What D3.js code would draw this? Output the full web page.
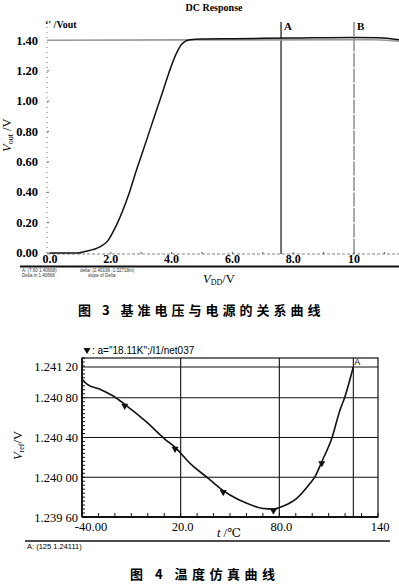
<!DOCTYPE html>
<html>
<head>
<meta charset="utf-8">
<script src="https://cdn.jsdelivr.net/npm/d3@7"></script>
<style>
  body { margin: 0; background: #fff; }
  svg { display: block; }
  .serif { font-family: "Liberation Serif", "DejaVu Serif", serif; }
  .cjk { font-family: "Noto Sans CJK SC", sans-serif; font-weight: bold; }
</style>
</head>
<body>
<svg id="chart"></svg>
<script>
// --- data: figure 3 (DC response) ---
const vddVolts   = [0, 0.9, 1.15, 1.64, 1.88, 2.19, 2.58, 2.85, 3.07, 3.62, 4.17, 4.33, 4.6, 5.0, 6.0, 8.0, 10.0, 10.8, 11.5];
const voutVolts  = [0, 0, 0.01, 0.04, 0.075, 0.185, 0.38, 0.55, 0.68, 1.01, 1.32, 1.375, 1.405, 1.41, 1.412, 1.416, 1.42, 1.418, 1.405];
const refVolts   = [-0.1, 10.5, 11.5];
const refValues  = [1.402, 1.405, 1.395];
const dcTicks    = [0, 2, 4, 6, 8, 10];
const dcTickText = ["0.0", "2.0", "4.0", "6.0", "8.0", "10"];
const voutTicks  = [0, 0.2, 0.4, 0.6, 0.8, 1.0, 1.2, 1.4];
const dcCursors  = [7.6, 10];
const dcCursorNames = ["A", "B"];

// --- data: figure 4 (temperature sweep) ---
const tempC = [-40, -37, -29, -21, -14, -1, 10.5, 16.6, 25.7, 36.8, 45.9, 50, 60.2, 70.3, 76.4, 82.5, 90.6, 98.7, 101.7, 105.8, 111.9, 116.9, 119.9, 125];
const vrefV = [1.240986, 1.240938, 1.240885, 1.240818, 1.240734, 1.240559, 1.240382, 1.240301, 1.24014, 1.239989, 1.239865, 1.239821,
               1.239738, 1.239685, 1.23968, 1.239711, 1.239788, 1.239939, 1.240006, 1.240156, 1.240392, 1.240677, 1.240811, 1.241112];
const markerTemps = [-14, 16.6, 45.9, 76.4, 105.8];
const markerVals  = [1.240734, 1.240301, 1.239865, 1.23968, 1.240156];
const tempTicks     = [-40, 20, 80, 140];
const tempTickText  = ["-40.00", "20.0", "80.0", "140"];
const vrefTicks     = [1.2396, 1.2400, 1.2404, 1.2408, 1.24111];
const vrefTickText  = ["1.239 60", "1.240 00", "1.240 40", "1.240 80", "1.241 20"];
const tempCursor = 125;

const W = 399, H = 587;
const svg = d3.select("#chart").attr("width", W).attr("height", H);
svg.append("rect").attr("width", W).attr("height", H).attr("fill", "#fff");

// ================= Figure 3 =================
const x3 = d3.scaleLinear().domain([0, 10]).range([50, 354]);
const y3 = d3.scaleLinear().domain([0, 1.4]).range([253, 40.5]);
const top3 = 22;

svg.append("text").attr("class", "serif")
  .attr("x", 214).attr("y", 11).attr("text-anchor", "middle")
  .attr("font-size", 10).attr("font-weight", "bold").text("DC Response");

svg.append("text").attr("class", "serif")
  .attr("x", 45).attr("y", 28).attr("font-size", 10).attr("font-weight", "bold")
  .text("\u2018' /Vout");

// dotted y axis with small ticks
svg.append("line").attr("x1", 47).attr("x2", 47).attr("y1", top3).attr("y2", 254)
  .attr("stroke", "#777").attr("stroke-dasharray", "1,4");
svg.append("line").attr("x1", 47).attr("x2", W).attr("y1", 254).attr("y2", 254)
  .attr("stroke", "#666").attr("stroke-width", 0.8).attr("stroke-dasharray", "3,2");

const yAxis3 = svg.append("g").attr("class", "serif");
yAxis3.selectAll("text").data(voutTicks).enter().append("text")
  .attr("x", 38).attr("y", d => y3(d) + 4)
  .attr("text-anchor", "end").attr("font-size", 12.5).attr("font-weight", "bold")
  .text(d => d3.format(".2f")(d));
yAxis3.selectAll("line").data(voutTicks).enter().append("line")
  .attr("x1", 47).attr("x2", 49).attr("y1", d => y3(d)).attr("y2", d => y3(d))
  .attr("stroke", "#666");

const xAxis3 = svg.append("g").attr("class", "serif");
xAxis3.selectAll("text").data(dcTicks).enter().append("text")
  .attr("x", d => x3(d)).attr("y", 263)
  .attr("text-anchor", "middle").attr("font-size", 12).attr("font-weight", "bold")
  .text((d, i) => dcTickText[i]);
xAxis3.selectAll("line").data(d3.range(0, 11.5, 1)).enter().append("line")
  .attr("x1", d => x3(d)).attr("x2", d => x3(d)).attr("y1", 252).attr("y2", 254)
  .attr("stroke", "#555");

// cursors A / B
dcCursors.forEach((v, i) => {
  svg.append("line").attr("x1", x3(v)).attr("x2", x3(v)).attr("y1", top3).attr("y2", 254)
    .attr("stroke", i === 0 ? "#111" : "#555").attr("stroke-width", i === 0 ? 1.2 : 1)
    .attr("stroke-dasharray", i === 0 ? null : "14,1.5");
  svg.append("text").attr("class", "serif")
    .attr("x", x3(v) + 3).attr("y", 30).attr("font-size", 11).attr("font-weight", "bold")
    .text(dcCursorNames[i]);
});

const line3 = d3.line().x(d => x3(d[0])).y(d => y3(d[1])).curve(d3.curveMonotoneX);
svg.append("path").datum(refVolts.map((v, i) => [v, refValues[i]]))
  .attr("d", line3).attr("fill", "none").attr("stroke", "#999").attr("stroke-width", 1.6);
svg.append("path").datum(vddVolts.map((v, i) => [v, voutVolts[i]]))
  .attr("d", line3).attr("fill", "none").attr("stroke", "#111").attr("stroke-width", 1.5);

// footer rule and status text
svg.append("line").attr("x1", 20).attr("x2", W).attr("y1", 266.5).attr("y2", 266.5)
  .attr("stroke", "#111").attr("stroke-width", 2);
const status3 = [["A: (7.60 1.40668)", 22, 271.5], ["Delta in 1.40668", 22, 277],
                 ["delta: (2.40196 -1.32718m)", 80, 271.5], ["slope of Delta", 88, 277]];
svg.append("g").selectAll("text").data(status3).enter().append("text")
  .attr("x", d => d[1]).attr("y", d => d[2]).attr("font-family", "Liberation Sans")
  .attr("font-size", 4.5).attr("fill", "#333").text(d => d[0]);

// axis titles
const xt3 = svg.append("text").attr("class", "serif").attr("x", 203).attr("y", 283).attr("font-size", 12.5);
xt3.append("tspan").attr("font-style", "italic").text("V");
xt3.append("tspan").attr("font-size", 8).attr("dy", 2).text("DD");
xt3.append("tspan").attr("dy", -2).text("/V");

const yt3 = svg.append("text").attr("class", "serif").attr("font-size", 12.5)
  .attr("transform", "translate(11,152) rotate(-90)");
yt3.append("tspan").attr("font-style", "italic").text("V");
yt3.append("tspan").attr("font-size", 8).attr("dy", 2).text("out");
yt3.append("tspan").attr("dy", -2).text(" /V");

svg.append("text").attr("class", "cjk").attr("x", 78).attr("y", 315)
  .attr("font-size", 13).attr("letter-spacing", 4)
  .text("图 3  基准电压与电源的关系曲线");

// ================= Figure 4 =================
const x4 = d3.scaleLinear().domain([-40, 140]).range([82, 378]);
const y4 = d3.scaleLinear().domain([1.2396, 1.2412]).range([517, 358]);

const caption4 = svg.append("g");
caption4.append("path")
  .attr("d", d3.symbol().type(d3.symbolTriangle).size(22))
  .attr("transform", "translate(87,350) rotate(180)").attr("fill", "#111");
caption4.append("text").attr("x", 92).attr("y", 354)
  .attr("font-family", "Liberation Sans").attr("font-size", 10)
  .text(":  a=\"18.11K\";/I1/net037");

// grid
const grid4 = svg.append("g").attr("stroke", "#111").attr("stroke-width", 1.1);
grid4.selectAll(".h").data(vrefTicks.slice(1)).enter().append("line")
  .attr("x1", x4(-40)).attr("x2", x4(140)).attr("y1", d => y4(d)).attr("y2", d => y4(d));
grid4.selectAll(".v").data(tempTicks.slice(1, 3).concat([tempCursor])).enter().append("line")
  .attr("x1", d => x4(d)).attr("x2", d => x4(d)).attr("y1", y4.range()[1]).attr("y2", y4.range()[0]);
svg.append("rect").attr("x", x4(-40)).attr("y", y4(1.2412))
  .attr("width", x4(140) - x4(-40)).attr("height", y4(1.2396) - y4(1.2412))
  .attr("fill", "none").attr("stroke", "#111").attr("stroke-width", 1.2);
svg.append("line").attr("x1", x4(-40)).attr("x2", x4(140)).attr("y1", y4(1.2396)).attr("y2", y4(1.2396))
  .attr("stroke", "#111").attr("stroke-width", 1.8);
svg.append("line").attr("x1", x4(-40)).attr("x2", x4(-40)).attr("y1", y4(1.2412)).attr("y2", y4(1.2396))
  .attr("stroke", "#111").attr("stroke-width", 1.8);

// minor ticks
svg.append("g").selectAll("line").data(d3.range(-40, 141, 10)).enter().append("line")
  .attr("x1", d => x4(d)).attr("x2", d => x4(d)).attr("y1", 517).attr("y2", 513)
  .attr("stroke", "#111");
svg.append("g").selectAll("line").data(d3.range(1.2396, 1.24121, 0.00004)).enter().append("line")
  .attr("x1", 82).attr("x2", 85).attr("y1", d => y4(d)).attr("y2", d => y4(d))
  .attr("stroke", "#111");

svg.append("text").attr("x", x4(tempCursor) + 1).attr("y", 365)
  .attr("font-family", "Liberation Sans").attr("font-size", 9).text("A");

// tick labels
svg.append("g").attr("class", "serif").selectAll("text").data(vrefTicks).enter().append("text")
  .attr("x", 78).attr("y", d => y4(d) + 4.5).attr("text-anchor", "end")
  .attr("font-size", 12.5).text((d, i) => vrefTickText[i]);
svg.append("g").attr("class", "serif").selectAll("text").data(tempTicks).enter().append("text")
  .attr("x", (d, i) => x4(d) + (i === 0 ? 9 : 2)).attr("y", 531).attr("text-anchor", "middle")
  .attr("font-size", 12.5).text((d, i) => tempTickText[i]);

// curve and markers
const line4 = d3.line().x(d => x4(d[0])).y(d => y4(d[1])).curve(d3.curveMonotoneX);
svg.append("path").datum(tempC.map((t, i) => [t, vrefV[i]]))
  .attr("d", line4).attr("fill", "none").attr("stroke", "#111").attr("stroke-width", 1.6);
svg.append("g").selectAll("path").data(markerTemps).enter().append("path")
  .attr("d", d3.symbol().type(d3.symbolTriangle).size(22))
  .attr("transform", (d, i) => `translate(${x4(d)},${y4(markerVals[i]) + 1.5}) rotate(180)`)
  .attr("fill", "#111");

// axis titles
const xt4 = svg.append("text").attr("class", "serif").attr("x", 217).attr("y", 537).attr("font-size", 12.5);
xt4.append("tspan").attr("font-style", "italic").text("t");
xt4.append("tspan").text(" /\u2103");

const yt4 = svg.append("text").attr("class", "serif").attr("font-size", 12.5)
  .attr("transform", "translate(22,460) rotate(-90)");
yt4.append("tspan").attr("font-style", "italic").text("V");
yt4.append("tspan").attr("font-size", 8).attr("dy", 2).text("ref");
yt4.append("tspan").attr("dy", -2).text("/V");

svg.append("line").attr("x1", 25).attr("x2", 390).attr("y1", 541).attr("y2", 541)
  .attr("stroke", "#111").attr("stroke-width", 1.5);
svg.append("text").attr("x", 27).attr("y", 549).attr("font-family", "Liberation Sans")
  .attr("font-size", 7.5).text("A: (125  1.24111)");

svg.append("text").attr("class", "cjk").attr("x", 130).attr("y", 579)
  .attr("font-size", 13).attr("letter-spacing", 4.5)
  .text("图 4  温度仿真曲线");
</script>
</body>
</html>
